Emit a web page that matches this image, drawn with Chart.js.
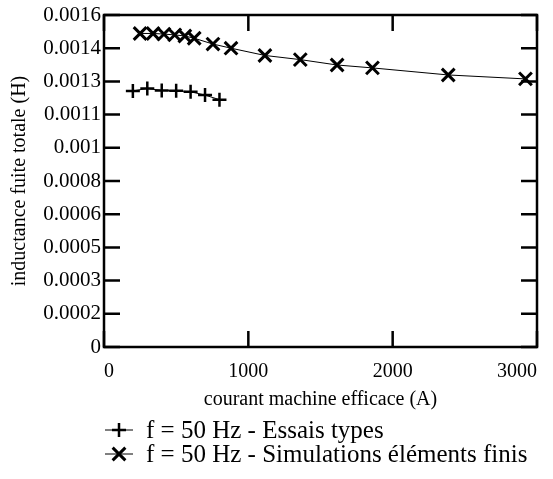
<!DOCTYPE html>
<html>
<head>
<meta charset="utf-8">
<script src="https://cdn.jsdelivr.net/npm/chart.js@4.4.0/dist/chart.umd.min.js"></script>
<style>
  html, body { margin: 0; padding: 0; background: #fff; }
</style>
</head>
<body>
<canvas id="chart" width="553" height="479"></canvas>
<script>
// Essais types (+)
const essaisCourant = [200, 300, 400, 500, 600, 700, 800];
const essaisInductance = [0.001234, 0.001246, 0.001236, 0.001235, 0.001230, 0.001214, 0.001192];

// Simulations elements finis (x)
const simCourant = [250, 340, 415, 490, 560, 625, 755, 880, 1115, 1360, 1615, 1860, 2385, 2920];
const simInductance = [0.001511, 0.001511, 0.001508, 0.001504, 0.001499, 0.001488, 0.00146,
                       0.00144, 0.001405, 0.001385, 0.001359, 0.001345, 0.001311, 0.001292];

// axis ticks (labels as printed on the original, rounded)
const xTicks = [0, 1000, 2000, 3000];
const xTickLabels = ['0', '1000', '2000', '3000'];
const yTicks = [0, 0.00016, 0.00032, 0.00048, 0.00064, 0.0008, 0.00096, 0.00112, 0.00128, 0.00144, 0.0016];
const yTickLabels = ['0', '0.0002', '0.0003', '0.0005', '0.0006', '0.0008', '0.001', '0.0011', '0.0013', '0.0014', '0.0016'];

const seriesLabels = ['f = 50 Hz - Essais types', 'f = 50 Hz - Simulations éléments finis'];

const FONT = "'Liberation Serif', 'Times New Roman', serif";

const toPoints = (xs, ys) => xs.map((v, i) => ({ x: v, y: ys[i] }));

// frame around the plot with inward tick marks on all four sides
const framePlugin = {
    id: 'frame',
    beforeDatasetsDraw(chart) {
        const { ctx, chartArea: a, scales: { x, y } } = chart;
        const len = 16;
        ctx.save();
        ctx.strokeStyle = '#000';
        ctx.lineWidth = 2.5;
        ctx.strokeRect(a.left, a.top, a.right - a.left, a.bottom - a.top);
        ctx.beginPath();
        xTicks.forEach(v => {
            const px = x.getPixelForValue(v);
            ctx.moveTo(px, a.bottom); ctx.lineTo(px, a.bottom - len);
            ctx.moveTo(px, a.top); ctx.lineTo(px, a.top + len);
        });
        yTicks.forEach(v => {
            const py = y.getPixelForValue(v);
            ctx.moveTo(a.left, py); ctx.lineTo(a.left + len, py);
            ctx.moveTo(a.right, py); ctx.lineTo(a.right - len, py);
        });
        ctx.stroke();
        ctx.restore();
    }
};

// legend stacked below the x axis title
const legendPlugin = {
    id: 'stackLegend',
    afterDraw(chart) {
        const { ctx } = chart;
        ctx.save();
        ctx.font = '25px ' + FONT;
        ctx.textBaseline = 'middle';
        ctx.fillStyle = '#000';
        ctx.strokeStyle = '#000';
        chart.data.datasets.forEach((ds, i) => {
            const y = 430 + i * 24;
            ctx.lineWidth = 1;
            ctx.beginPath();
            ctx.moveTo(105, y); ctx.lineTo(133, y);
            ctx.stroke();
            ctx.lineWidth = ds.pointBorderWidth;
            Chart.helpers.drawPoint(ctx, { pointStyle: ds.pointStyle, radius: ds.pointRadius, borderWidth: ds.pointBorderWidth, rotation: 0 }, 119, y);
            ctx.fillText(ds.label, 146, y + 1);
        });
        ctx.restore();
    }
};

new Chart(document.getElementById('chart').getContext('2d'), {
    type: 'scatter',
    data: {
        datasets: [
            {
                label: seriesLabels[0],
                data: toPoints(essaisCourant, essaisInductance),
                showLine: true,
                borderColor: '#000',
                borderWidth: 1,
                pointStyle: 'cross',
                pointRadius: 7,
                pointBorderWidth: 2.5,
                pointBorderColor: '#000',
                pointBackgroundColor: '#000'
            },
            {
                label: seriesLabels[1],
                data: toPoints(simCourant, simInductance),
                showLine: true,
                borderColor: '#000',
                borderWidth: 1,
                pointStyle: 'crossRot',
                pointRadius: 9,
                pointBorderWidth: 3,
                pointBorderColor: '#000',
                pointBackgroundColor: '#000'
            }
        ]
    },
    options: {
        responsive: false,
        animation: false,
        layout: { padding: { left: 0, top: 15, right: 16, bottom: 67 } },
        plugins: { legend: { display: false }, tooltip: { enabled: false } },
        scales: {
            x: {
                type: 'linear',
                min: 0, max: 3000,
                afterBuildTicks: s => { s.ticks = xTicks.map(v => ({ value: v })); },
                afterFit: s => { s.height = 65; s.paddingLeft = 0; s.paddingRight = 0; },
                grid: { display: false, drawTicks: false },
                border: { display: false },
                ticks: {
                    color: '#000', padding: 13, align: 'inner', font: { family: FONT, size: 20 },
                    callback: (v, i) => xTickLabels[i]
                },
                title: { display: true, text: 'courant machine efficace (A)', color: '#000', padding: 0, font: { family: FONT, size: 20 } }
            },
            y: {
                type: 'linear',
                min: 0, max: 0.0016,
                afterBuildTicks: s => { s.ticks = yTicks.map(v => ({ value: v })); },
                afterFit: s => { s.width = 104; s.paddingTop = 0; s.paddingBottom = 0; },
                grid: { display: false, drawTicks: false },
                border: { display: false },
                ticks: {
                    color: '#000', padding: 3, font: { family: FONT, size: 21 },
                    callback: (v, i) => yTickLabels[i]
                },
                title: { display: true, text: 'inductance fuite totale (H)', color: '#000', padding: { top: 8, bottom: 0 }, font: { family: FONT, size: 20 } }
            }
        }
    },
    plugins: [framePlugin, legendPlugin]
});
</script>
</body>
</html>
